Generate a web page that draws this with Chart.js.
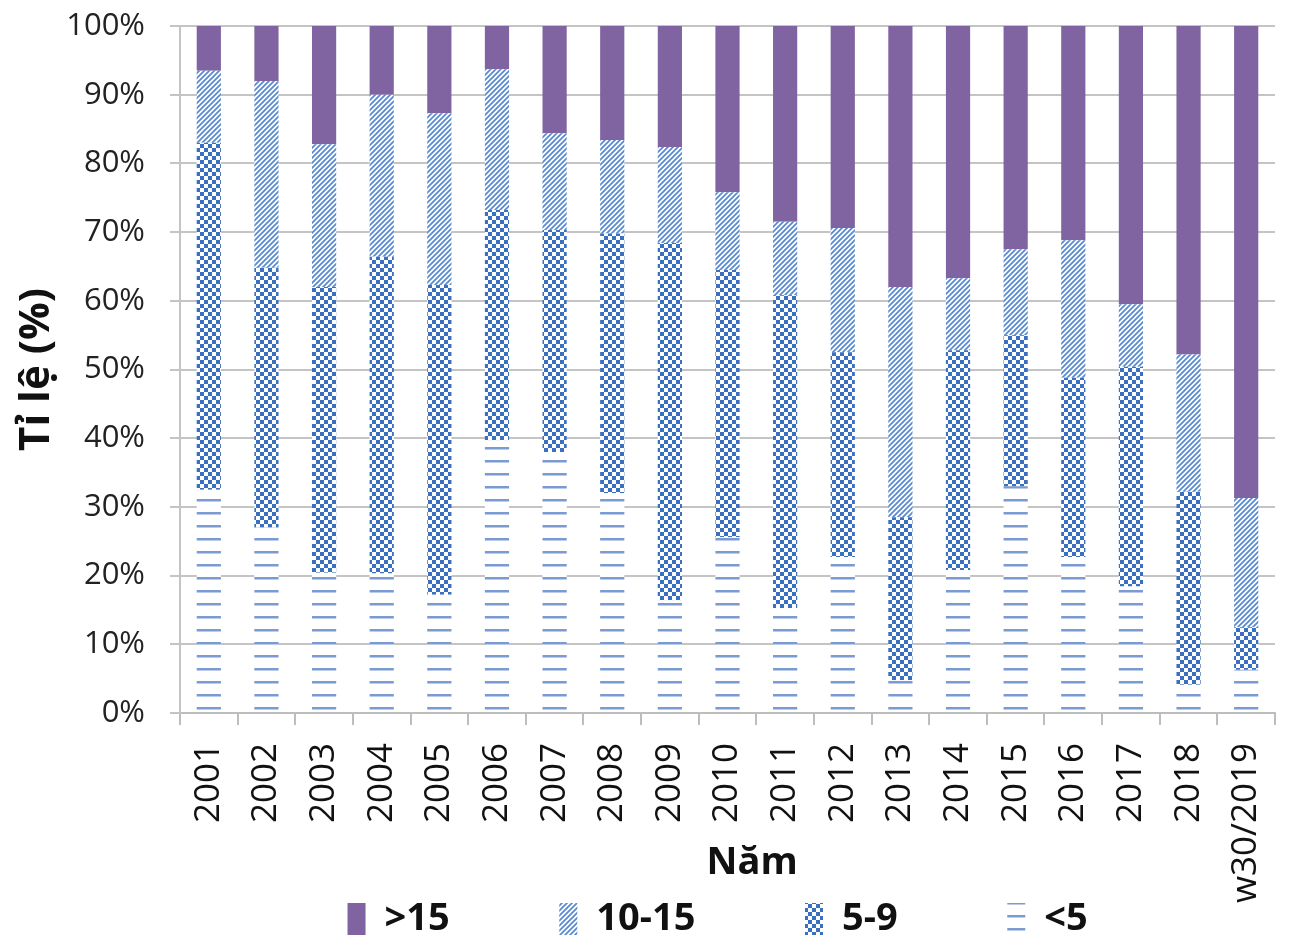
<!DOCTYPE html>
<html>
<head>
<meta charset="utf-8">
<script src="https://cdn.jsdelivr.net/npm/chart.js@4.4.0/dist/chart.umd.min.js"></script>
<style>
    body { margin: 0; background: #fff; }
    canvas { display: block; }
</style>
</head>
<body>
<canvas id="chartTuoi" width="1289" height="942"></canvas>
<script>
// Du lieu doc tu bieu do (ti le % theo nhom tuoi)
var nam = ['2001', '2002', '2003', '2004', '2005', '2006', '2007', '2008', '2009', '2010',
    '2011', '2012', '2013', '2014', '2015', '2016', '2017', '2018', 'w30/2019'];
var duoi5 = [32.5, 27, 20.4, 20.3, 17.2, 39.7, 38, 32, 16.4, 25.6, 15.3, 22.7, 4.8, 20.8, 33, 22.7, 18.4, 4.1, 6.3];
var tu5den9 = [50.5, 37.8, 41.6, 46.1, 45.1, 33.5, 32.3, 37.8, 52, 38.9, 45.5, 29.8, 23.7, 32, 22, 26.1, 32, 28.1, 6.2];
var tu10den15 = [10.5, 27.2, 20.8, 23.6, 25, 20.5, 14.1, 13.6, 14, 11.3, 10.7, 18.1, 33.5, 10.5, 12.5, 20, 9.1, 20, 18.8];
var tren15 = [6.5, 8, 17.2, 10, 12.7, 6.3, 15.6, 16.6, 17.6, 24.2, 28.5, 29.4, 38, 36.7, 32.5, 31.2, 40.5, 47.8, 68.7];
var nhomTuoi = ['<5', '5-9', '10-15', '>15'];

Chart.defaults.font.family = "'Open Sans', sans-serif";
Chart.defaults.color = '#111';

var ctx = document.getElementById('chartTuoi').getContext('2d');

// tao cac mau to (pattern) giong Excel
function taoMau(kieu) {
    var c = document.createElement('canvas');
    var g = c.getContext('2d');
    if (kieu == 'ngang') {
        c.width = 12; c.height = 13;
        g.fillStyle = '#fff';
        g.fillRect(0, 0, 12, 13);
        g.fillStyle = '#7a9ad2';
        g.fillRect(0, 5, 12, 2.5);
    } else if (kieu == 'caro') {
        c.width = 8; c.height = 8;
        g.fillStyle = '#fff';
        g.fillRect(0, 0, 8, 8);
        g.fillStyle = '#3a70bf';
        g.fillRect(0, 0, 4, 4);
        g.fillRect(4, 4, 4, 4);
    } else {
        c.width = 5; c.height = 5;
        g.fillStyle = '#fff';
        g.fillRect(0, 0, 5, 5);
        g.strokeStyle = '#5a8bd0';
        g.lineWidth = 1.8;
        g.beginPath();
        g.moveTo(0, 5); g.lineTo(5, 0);
        g.moveTo(-1, 1); g.lineTo(1, -1);
        g.moveTo(4, 6); g.lineTo(6, 4);
        g.stroke();
    }
    return ctx.createPattern(c, 'repeat');
}

var dados = {
    labels: nam,
    datasets: [
        { label: nhomTuoi[0], data: duoi5, backgroundColor: taoMau('ngang') },
        { label: nhomTuoi[1], data: tu5den9, backgroundColor: taoMau('caro') },
        { label: nhomTuoi[2], data: tu10den15, backgroundColor: taoMau('cheo') },
        { label: nhomTuoi[3], data: tren15, backgroundColor: '#8064a2' }
    ]
};

const config = {
    type: 'bar',
    data: dados,
    options: {
        responsive: false,
        animation: false,
        layout: { padding: { top: 26, right: 14, left: 0, bottom: 0 } },
        datasets: {
            bar: { barPercentage: 0.42, categoryPercentage: 1, borderWidth: 0 }
        },
        plugins: {
            tooltip: { enabled: false },
            legend: {
                position: 'bottom',
                fullSize: false,
                reverse: true,
                maxHeight: 43,
                labels: {
                    boxWidth: 18,
                    boxHeight: 32,
                    padding: 1,
                    color: '#111',
                    font: { size: 38, weight: 'bold' },
                    generateLabels: function (chart) {
                        var items = Chart.defaults.plugins.legend.labels.generateLabels(chart);
                        items.forEach(function (it) {
                            // khoang cach giua cac muc chu thich
                            it.text = it.text + (it.datasetIndex != 0 ? '           ' : '  ');
                        });
                        return items;
                    }
                }
            }
        },
        scales: {
            x: {
                stacked: true,
                grid: { drawOnChartArea: false, tickLength: 12, color: '#bdbdbd', lineWidth: 2 },
                border: { color: '#bdbdbd', width: 2 },
                ticks: { maxRotation: 90, minRotation: 90, autoSkip: false, padding: 18, font: { size: 35 }, color: '#111' },
                title: { display: true, text: '     Năm', font: { size: 38, weight: 'bold' }, padding: { top: 0, bottom: 13 }, color: '#111' },
                afterFit: function (scale) {
                    scale.height = 186;
                    scale.paddingLeft = 0;
                    scale.paddingRight = 0;
                    // nhan dai (w30/2019) khong bi cat
                    scale._computeLabelArea = function () { return undefined; };
                }
            },
            y: {
                stacked: true,
                min: 0,
                max: 100,
                grid: { color: '#c4c4c4', lineWidth: 2, tickLength: 10 },
                border: { color: '#c4c4c4', width: 2 },
                ticks: {
                    stepSize: 10,
                    padding: 25,
                    font: { size: 31 },
                    color: '#222',
                    callback: function (v) { return v + '%'; }
                },
                title: { display: true, text: 'Tỉ lệ (%)', font: { size: 42, weight: 'bold' }, padding: { top: 12, bottom: 0 }, color: '#111' },
                afterFit: function (scale) {
                    scale.width = 180;
                    scale.paddingTop = 0;
                    scale.paddingBottom = 0;
                }
            }
        }
    }
};

let myChart = new Chart(ctx, config);
</script>
</body>
</html>
